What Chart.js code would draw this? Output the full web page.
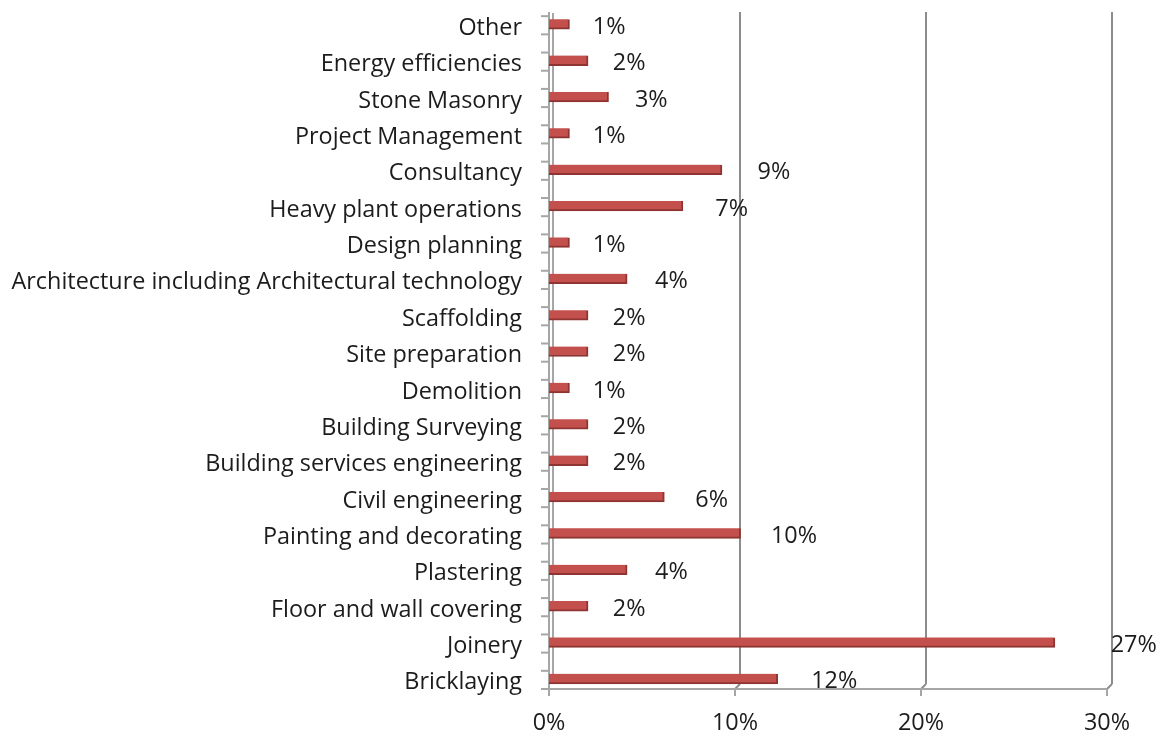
<!DOCTYPE html>
<html>
<head>
<meta charset="utf-8">
<script src="https://cdn.jsdelivr.net/npm/chart.js@4.4.1/dist/chart.umd.min.js"></script>
<style>
html, body { margin: 0; padding: 0; background: #fff; }
</style>
</head>
<body>
<canvas id="skillsChart" width="1168" height="736"></canvas>
<script>
// skill areas, top to bottom as in the chart
const categories = [
    'Other',
    'Energy efficiencies',
    'Stone Masonry',
    'Project Management',
    'Consultancy',
    'Heavy plant operations',
    'Design planning',
    'Architecture including Architectural technology',
    'Scaffolding',
    'Site preparation',
    'Demolition',
    'Building Surveying',
    'Building services engineering',
    'Civil engineering',
    'Painting and decorating',
    'Plastering',
    'Floor and wall covering',
    'Joinery',
    'Bricklaying'
];
// share of respondents, %
const shares = [1.1, 2.1, 3.2, 1.1, 9.3, 7.2, 1.1, 4.2, 2.1, 2.1, 1.1, 2.1, 2.1, 6.2, 10.3, 4.2, 2.1, 27.2, 12.3];
const xTicks = [0, 10, 20, 30];

const FAMILY = '"Open Sans", sans-serif';
const TEXT = '#1c1c1c';

// size the font so the longest label spans about what it does in the original
const probe = document.createElement('canvas').getContext('2d');
probe.font = '20px ' + FAMILY;
const longest = Math.max(...categories.map(c => probe.measureText(c).width));
const FONT_SIZE = Math.round(20 * 510 / longest * 10) / 10;

// excel-ish 3d frame: back wall gridlines, floor edge, left wall with ticks
const frame3d = {
    id: 'frame3d',
    beforeDatasetsDraw(chart) {
        const { ctx, chartArea: a, scales: { x, y } } = chart;
        const depth = 5;
        const half = (y.getPixelForValue(1) - y.getPixelForValue(0)) / 2;
        const floorY = a.bottom - 8;
        const topY = a.top + 6;
        const line = (x1, y1, x2, y2) => { ctx.beginPath(); ctx.moveTo(x1, y1); ctx.lineTo(x2, y2); ctx.stroke(); };
        ctx.save();
        ctx.lineWidth = 2;
        ctx.strokeStyle = '#8c8c8c';
        xTicks.forEach(v => {
            const px = x.getPixelForValue(v);
            if (v > 0) {
                line(px + depth, topY, px + depth, floorY - depth);
                line(px, floorY, px + depth, floorY - depth);
            }
        });
        ctx.strokeStyle = '#a6a6a6';
        // left wall (front + back edge)
        line(a.left + depth - 1, topY + 1, a.left + depth - 1, floorY - depth);
        line(a.left, topY, a.left, floorY);
        // floor front edge
        line(a.left, floorY, x.getPixelForValue(xTicks[xTicks.length - 1]), floorY);
        xTicks.forEach(v => {
            const px = x.getPixelForValue(v);
            line(px, floorY, px, floorY + 7);
        });
        // category ticks every half band
        for (let k = 1; k <= categories.length * 2; k++) {
            const ty = a.top - 8 + k * half;
            line(a.left - 8, ty, a.left, ty);
        }
        ctx.restore();
    }
};

const valueLabels = {
    id: 'valueLabels',
    afterDatasetsDraw(chart) {
        const { ctx } = chart;
        const meta = chart.getDatasetMeta(0);
        ctx.save();
        ctx.font = FONT_SIZE + 'px ' + FAMILY;
        ctx.fillStyle = TEXT;
        ctx.textAlign = 'center';
        ctx.textBaseline = 'middle';
        meta.data.forEach((bar, i) => {
            const v = shares[i];
            ctx.fillText(Math.round(v) + '%', bar.x + 38 + 1.5 * v, bar.y + 3);
        });
        ctx.restore();
    }
};

const ctx = document.getElementById('skillsChart').getContext('2d');
const skillsChart = new Chart(ctx, {
    type: 'bar',
    data: {
        labels: categories,
        datasets: [{
            data: shares,
            backgroundColor: '#C4504D',
            borderColor: '#8E3533',
            borderWidth: { top: 0, left: 0, right: 2, bottom: 2 },
            borderSkipped: false,
            barThickness: 10
        }]
    },
    options: {
        indexAxis: 'y',
        responsive: false,
        animation: false,
        layout: { padding: { top: 6, right: 61, left: 0, bottom: 0 } },
        plugins: {
            legend: { display: false },
            tooltip: { enabled: false }
        },
        scales: {
            x: {
                min: 0,
                max: 30,
                afterFit: s => { s.height = 39; },
                afterBuildTicks: s => { s.ticks = xTicks.map(v => ({ value: v })); },
                grid: { display: false, drawTicks: false },
                border: { display: false },
                ticks: {
                    padding: 12,
                    color: TEXT,
                    font: { family: FAMILY, size: FONT_SIZE }
                    ,
                    callback: v => v + '%'
                }
            },
            y: {
                afterFit: s => { s.width = 549; s.paddingTop = 0; s.paddingBottom = 0; },
                grid: { display: false, drawTicks: false },
                border: { display: false },
                ticks: {
                    padding: 27,
                    labelOffset: 4,
                    autoSkip: false,
                    color: TEXT,
                    font: { family: FAMILY, size: FONT_SIZE }
                }
            }
        }
    },
    plugins: [frame3d, valueLabels]
});
</script>
</body>
</html>
